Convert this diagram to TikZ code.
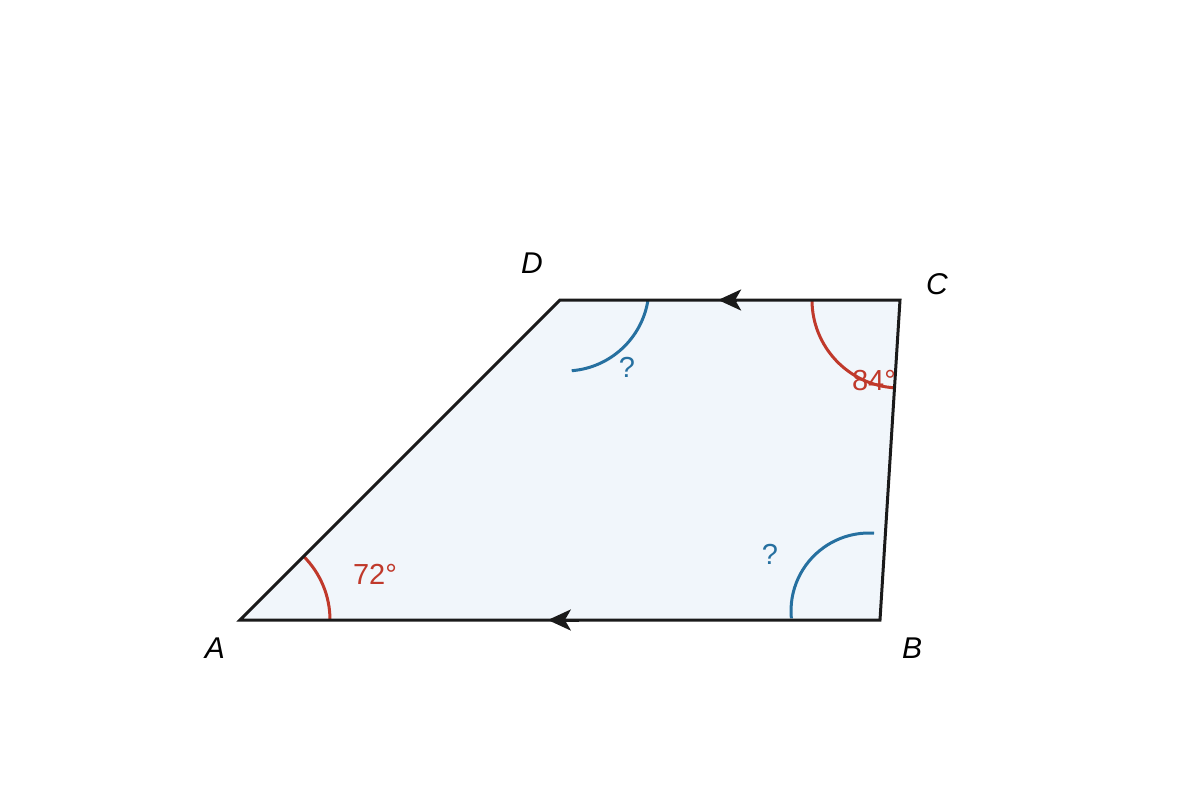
\documentclass[tikz,border=0pt]{standalone}
\usepackage{fontspec}
\setmainfont{Liberation Sans}
\usetikzlibrary{arrows.meta,calc}
\definecolor{edgecol}{RGB}{26,26,26}
\definecolor{fillcol}{RGB}{241,246,251}
\definecolor{redcol}{RGB}{192,57,43}
\definecolor{bluecol}{RGB}{38,112,160}
\tikzset{
  side/.style={draw=edgecol,line width=1.5pt,line join=miter},
  arrowmark/.style={draw=edgecol,line width=1.5pt,-{Stealth[length=11.5pt,width=10.5pt,inset=3pt]}},
  redarc/.style={draw=redcol,line width=1.5pt},
  bluearc/.style={draw=bluecol,line width=1.5pt},
  vlabel/.style={inner sep=0pt,font=\fontsize{15pt}{17pt}\selectfont\itshape,text=black},
  redlabel/.style={inner sep=0pt,font=\fontsize{14.5pt}{16pt}\selectfont,text=redcol},
  bluelabel/.style={inner sep=0pt,font=\fontsize{14.5pt}{16pt}\selectfont,text=bluecol}
}
\begin{document}
\begin{tikzpicture}[x=0.5pt,y=0.5pt]
\useasboundingbox (0,0) rectangle (1200,800);
\fill[white] (0,0) rectangle (1200,800);
\coordinate (A) at (240,180);
\coordinate (B) at (880,180);
\coordinate (C) at (900,500);
\coordinate (D) at (560,500);
% shape
\fill[fillcol] (A) -- (B) -- (C) -- (D) -- cycle;
% angle arcs
\draw[redarc] ($(A)+(90,0)$) arc[start angle=0,end angle=45,radius=90];
\draw[redarc] ($(C)+(-88,0)$) arc[start angle=180,end angle=266.5,radius=88];
\draw[bluearc] ($(565,513)+(-8.9:84)$) arc[start angle=-8.9,end angle=-85.4,radius=84];
\draw[bluearc] ($(869,189)+(185.4:78)$) arc[start angle=185.4,end angle=86.3,radius=78];
% sides
\draw[side] (A) -- (B) -- (C) -- (D) -- cycle;
% parallel arrows
\draw[arrowmark] ($(B)!0.47!(A)$) -- ($(B)!0.519!(A)$);
\draw[arrowmark] ($(C)!0.48!(D)$) -- ($(C)!0.535!(D)$);
% vertex labels
\node[vlabel] (lA) at (215,152) {A};
\node[vlabel] (lB) at (912,152) {B};
\node[vlabel] (lC) at (937,516) {C};
\node[vlabel] (lD) at (532,537) {D};
% angle labels
\node[redlabel] (a72) at (375,226) {72°};
\node[redlabel] (a84) at (874,419) {84°};
\node[bluelabel] (qD) at (627,433) {?};
\node[bluelabel] (qB) at (770,246) {?};
\end{tikzpicture}
\end{document}
